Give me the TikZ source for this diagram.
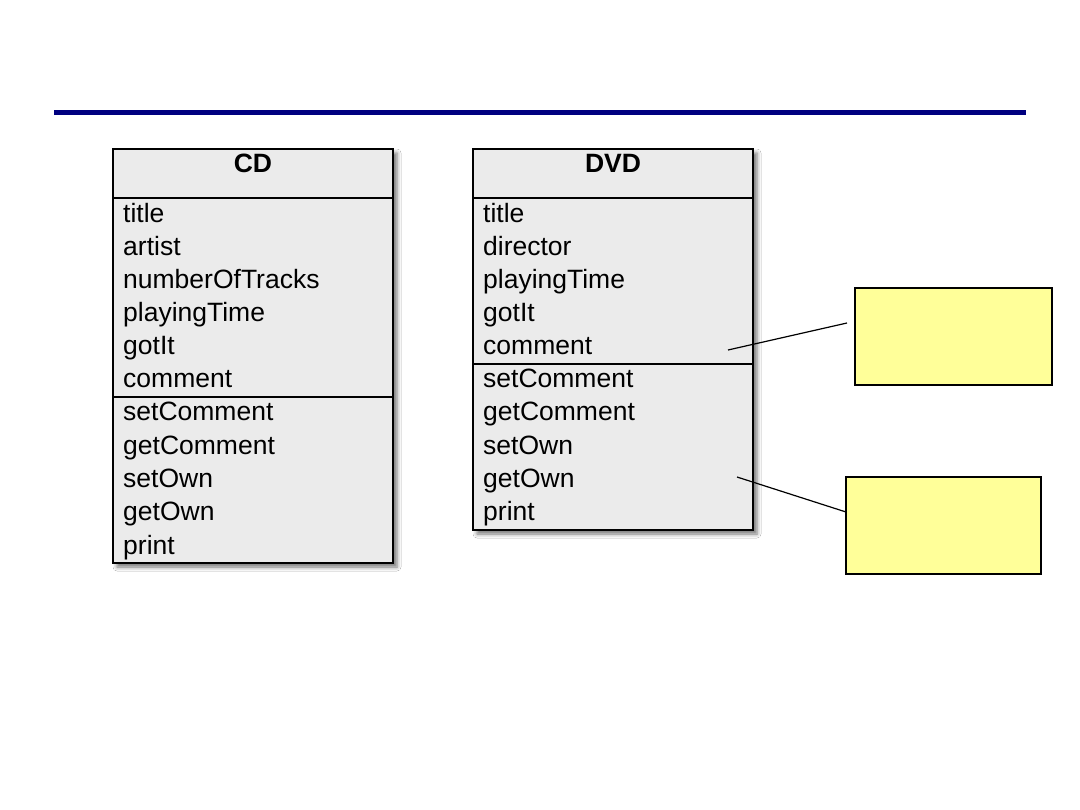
\documentclass[tikz,border=0pt]{standalone}
\usepackage{fontspec}
\setmainfont{Liberation Sans}
\usetikzlibrary{shadows.blur}
\definecolor{barblue}{RGB}{0,0,128}
\definecolor{boxgray}{RGB}{235,235,235}
\definecolor{noteyellow}{RGB}{255,255,153}
\tikzset{
  classbox/.style={draw=black, line width=2.6pt, fill=boxgray, anchor=north west,
    inner sep=0pt, outer sep=0pt, minimum width=280pt,
    blur shadow={shadow xshift=4pt, shadow yshift=-4pt, shadow blur radius=4pt, shadow opacity=55}},
  sepline/.style={draw=black, line width=1.8pt},
  member/.style={anchor=base west, inner sep=0pt, font=\fontsize{26.5}{30}\selectfont},
  header/.style={anchor=base, inner sep=0pt, font=\fontsize{26.5}{30}\selectfont\bfseries},
  notebox/.style={draw=black, line width=2pt, fill=noteyellow, anchor=north west,
    inner sep=0pt, outer sep=0pt},
  callout/.style={draw=black, line width=1.2pt},
}
\begin{document}
\begin{tikzpicture}[x=1pt,y=-1pt]
\useasboundingbox[fill=white] (0,0) rectangle (1080,810);
% top bar
\fill[barblue] (54,110) rectangle (1026,115);
% CD class
\node[classbox, minimum height=414pt] (cd) at (113,149) {};
\draw[sepline] (cd.west |- 0,198) -- (cd.east |- 0,198);
\draw[sepline] (cd.west |- 0,397) -- (cd.east |- 0,397);
\node[header] (cdname) at (253,173) {CD};
\node[member] (cd1) at (123,223) {title};
\node[member] (cd2) at (123,256) {artist};
\node[member] (cd3) at (123,289) {numberOfTracks};
\node[member] (cd4) at (123,322) {playingTime};
\node[member] (cd5) at (123,355) {gotIt};
\node[member] (cd6) at (123,388) {comment};
\node[member] (cd7) at (123,421) {setComment};
\node[member] (cd8) at (123,454) {getComment};
\node[member] (cd9) at (123,487) {setOwn};
\node[member] (cd10) at (123,520) {getOwn};
\node[member] (cd11) at (123,554) {print};
% DVD class
\node[classbox, minimum height=381pt] (dvd) at (473,149) {};
\draw[sepline] (dvd.west |- 0,198) -- (dvd.east |- 0,198);
\draw[sepline] (dvd.west |- 0,364) -- (dvd.east |- 0,364);
\node[header] (dvdname) at (613,173) {DVD};
\node[member] (dvd1) at (483,223) {title};
\node[member] (dvd2) at (483,256) {director};
\node[member] (dvd3) at (483,289) {playingTime};
\node[member] (dvd4) at (483,322) {gotIt};
\node[member] (dvd5) at (483,355) {comment};
\node[member] (dvd6) at (483,388) {setComment};
\node[member] (dvd7) at (483,421) {getComment};
\node[member] (dvd8) at (483,454) {setOwn};
\node[member] (dvd9) at (483,487) {getOwn};
\node[member] (dvd10) at (483,520) {print};
% notes
\node[notebox, minimum width=197pt, minimum height=97pt] (note1) at (855,288) {};
\node[notebox, minimum width=195pt, minimum height=97pt] (note2) at (846,477) {};
% callouts
\coordinate (c1s) at (728,350);
\coordinate (c1e) at (847,323);
\coordinate (c2s) at (737,477);
\draw[callout] (c1s) -- (c1e);
\draw[callout] (c2s) -- (note2.west |- 0,512);
\end{tikzpicture}
\end{document}
